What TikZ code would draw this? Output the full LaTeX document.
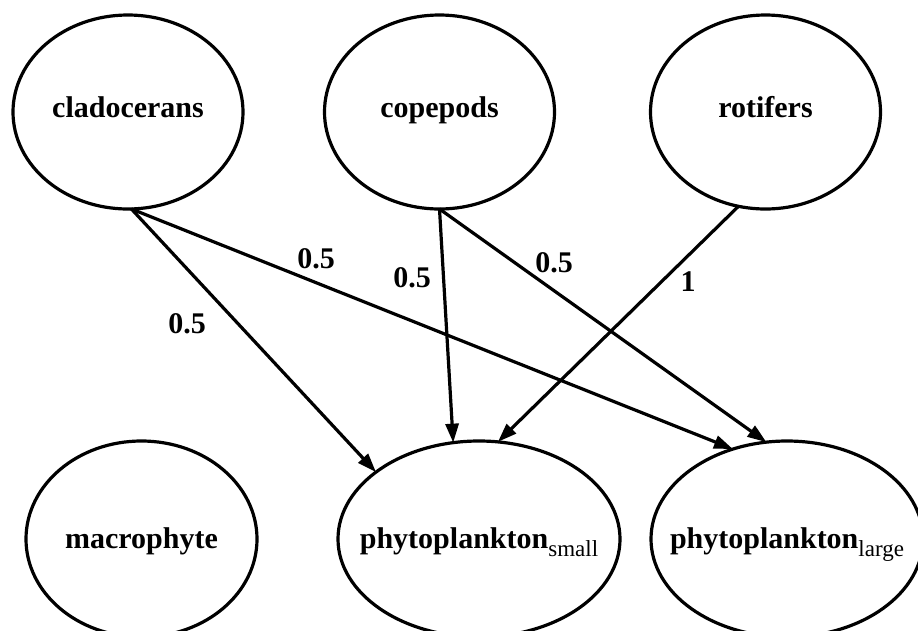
\documentclass[tikz,border=0pt]{standalone}
\usepackage{fontspec}
\setmainfont{Liberation Serif}
\usetikzlibrary{arrows.meta,shapes.geometric}
\newcommand\ctrtxt[1]{\makebox[0pt][c]{#1}}
\newcommand\lowsub[1]{\raisebox{-8pt}{\fontsize{23}{23}\selectfont\mdseries #1}}
\begin{document}
\begin{tikzpicture}[x=1pt,y=-1pt,
  ell/.style={draw, line width=3.2pt, ellipse, inner sep=0pt, outer sep=0pt,
    font=\fontsize{30}{36}\selectfont\bfseries},
  toprow/.style={ell, minimum width=230pt, minimum height=194pt, text height=20pt, text depth=10pt},
  botrow/.style={ell, minimum height=196pt, text height=22pt, text depth=4pt},
  wlabel/.style={font=\fontsize{30}{36}\selectfont\bfseries, inner sep=0pt},
  flow/.style={line width=3.2pt, -{Triangle[length=19pt,width=13pt]}}]
\useasboundingbox (0,0) rectangle (918,630);
\fill[white] (0,0) rectangle (918,630);
\node[toprow] (clad) at (128,112) {\ctrtxt{cladocerans}};
\node[toprow] (cope) at (439.5,112) {\ctrtxt{copepods}};
\node[toprow] (roti) at (765.5,112) {\ctrtxt{rotifers}};
\node[botrow, minimum width=231pt] (macro) at (141.5,539) {\ctrtxt{macrophyte}};
\node[botrow, minimum width=282pt] (small) at (479,539) {\ctrtxt{phytoplankton\lowsub{small}}};
\node[botrow, minimum width=272pt] (large) at (787,539) {\ctrtxt{phytoplankton\lowsub{large}}};
\draw[flow] (clad.-88) -- (small.147);
\draw[flow] (clad.-88) -- (large.121);
\draw[flow] (cope.-90) -- (small.105);
\draw[flow] (cope.-90) -- (large.102);
\draw[flow] (roti.-106) -- (small.79);
\node[wlabel] (l1) at (187,324) {0.5};
\node[wlabel] (l2) at (316,259) {0.5};
\node[wlabel] (l3) at (412,278) {0.5};
\node[wlabel] (l4) at (554,263) {0.5};
\node[wlabel] (l5) at (688,282) {1};
\end{tikzpicture}
\end{document}
